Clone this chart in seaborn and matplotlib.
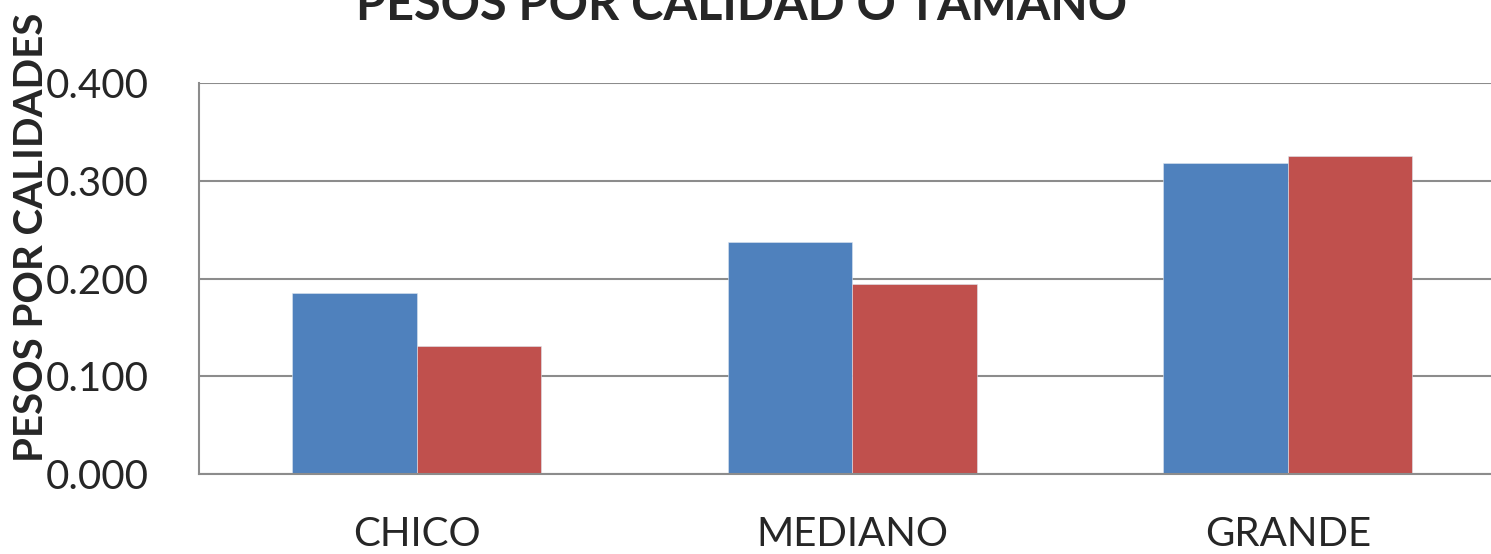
import matplotlib
matplotlib.use("Agg")
import matplotlib.pyplot as plt
import seaborn as sns
import pandas as pd

categories = ["CHICO", "MEDIANO", "GRANDE"]
series_names = ["Serie 1", "Serie 2"]
serie1 = [0.185, 0.237, 0.318]
serie2 = [0.131, 0.194, 0.325]
yticks = [0.0, 0.1, 0.2, 0.3, 0.4]
title = "PESOS POR CALIDAD O TAMAÑO"
ylabel = "PESOS POR CALIDADES"

df = pd.DataFrame({
    "cat": categories * 2,
    "serie": [series_names[0]] * 3 + [series_names[1]] * 3,
    "val": serie1 + serie2,
})

sns.set_style("white")
plt.rcParams["font.family"] = ["Lato", "DejaVu Sans"]

W, H = 1491, 554
fig = plt.figure(figsize=(W / 100, H / 100), dpi=100)
ax = fig.add_axes([199 / W, 1 - 474 / H, 1306.5 / W, 391 / H])

sns.barplot(data=df, x="cat", y="val", hue="serie", order=categories,
            hue_order=series_names, palette=["#4F81BD", "#C0504D"],
            width=0.572, ax=ax, legend=False, saturation=1)
for p in ax.patches:
    p.set_edgecolor("#dde6f0")
    p.set_linewidth(0.4)

ax.set_ylim(0, 0.4)
ax.set_yticks(yticks)
ax.set_yticklabels([f"{v:.3f}" for v in yticks])
ax.set_xlim(-0.5, 2.5)
ax.yaxis.grid(True, color="#8c8c8c", linewidth=1.5)
ax.set_axisbelow(True)
for s in ["top", "right"]:
    ax.spines[s].set_visible(False)
for s in ["left", "bottom"]:
    ax.spines[s].set_color("#8c8c8c")
    ax.spines[s].set_linewidth(1.5)
ax.tick_params(axis="y", length=0, pad=36, labelsize=29)
ax.tick_params(axis="x", length=0, pad=30, labelsize=29)
ax.set_xlabel("")
ax.set_ylabel("")

fig.text(742 / W, 1 - 20 / H, title, ha="center", va="baseline",
         fontsize=35, fontweight="bold")
fig.text(32 / W, 1 - 237 / H, ylabel, ha="center", va="center",
         rotation=90, fontsize=29, fontweight="bold")

fig.savefig("out.png", dpi=100)
